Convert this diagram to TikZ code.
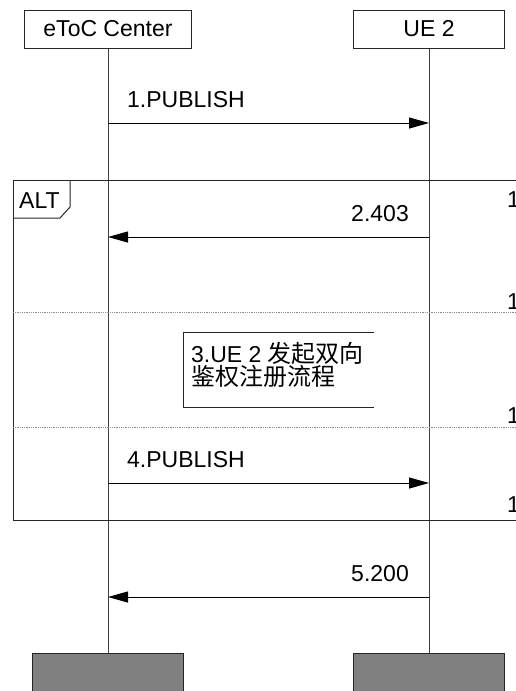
\documentclass[tikz,border=0pt]{standalone}
\usepackage{fontspec}
\setmainfont{Liberation Sans}
\newfontfamily\cjk{Noto Sans CJK SC}
\usetikzlibrary{arrows.meta}
\begin{document}
\begin{tikzpicture}[x=1pt,y=-1pt,
  font=\fontsize{23}{24}\selectfont,
  actor/.style={draw=black!85, line width=1pt, minimum height=38pt, inner sep=0pt},
  endbox/.style={draw=black!85, fill=black!50, line width=1pt, minimum height=52pt, inner sep=0pt},
  life/.style={draw=black!75, line width=1pt},
  msg/.style={draw=black, line width=1pt, -{Triangle[length=20pt,width=11pt]}},
  lbl/.style={inner sep=0pt},
  frame/.style={draw=black!85, line width=1pt},
  sep/.style={draw=black!45, line width=0.8pt, densely dotted}]
\useasboundingbox (0,0) rectangle (516,691);
\clip (0,0) rectangle (516,691);
\fill[white] (0,0) rectangle (516,691);
% participants
\node[actor, minimum width=167pt] (ec) at (108,29) {eToC Center};
\node[actor, minimum width=151pt] (ue) at (429,29) {UE 2};
\node[endbox, minimum width=151pt, anchor=north] (ecend) at (108,653) {};
\node[endbox, minimum width=151pt, anchor=north] (ueend) at (429,653) {};
\draw[life] (ec.south) -- (ecend.north);
\draw[life] (ue.south) -- (ueend.north);
% alt frame
\draw[frame] (530,180) -- (13,180) -- (13,520) -- (530,520);
\draw[frame] (13,218) -- (60,218) -- (70,207) -- (70,180);
\node[lbl, anchor=base west] (alt) at (19,208) {ALT};
\draw[sep] (13,312) -- (530,312);
\draw[sep] (13,427) -- (530,427);
\node[lbl, anchor=base west] (c1) at (507,207) {1};
\node[lbl, anchor=base west] (c2) at (507,309) {1};
\node[lbl, anchor=base west] (c3) at (507,423) {1};
\node[lbl, anchor=base west] (c4) at (507,512) {1};
% messages
\coordinate (a1) at (108,123); \coordinate (b1) at (429,123);
\coordinate (a2) at (108,237); \coordinate (b2) at (429,237);
\coordinate (a4) at (108,483); \coordinate (b4) at (429,483);
\coordinate (a5) at (108,597); \coordinate (b5) at (429,597);
\draw[msg] (a1) -- (b1);
\node[lbl, anchor=base west] (m1) at (127,107) {1.PUBLISH};
\draw[msg] (b2) -- (a2);
\node[lbl, anchor=base east] (m2) at (409,221) {2.403};
\draw[msg] (a4) -- (b4);
\node[lbl, anchor=base west] (m4) at (127,467) {4.PUBLISH};
\draw[msg] (b5) -- (a5);
\node[lbl, anchor=base east] (m5) at (409,581) {5.200};
% action box
\node[minimum width=191pt, minimum height=75pt, inner sep=0pt, anchor=north west] (b3) at (183,332) {};
\draw[frame] (b3.north east) -- (b3.north west) -- (b3.south west) -- (b3.south east);
\node[lbl, anchor=base west] (t3a) at (191,362) {3.UE 2 {\cjk\fontsize{24}{24}\selectfont 发起双向}};
\node[lbl, anchor=base west] (t3b) at (191,385) {\cjk\fontsize{24}{24}\selectfont 鉴权注册流程};
\end{tikzpicture}
\end{document}
